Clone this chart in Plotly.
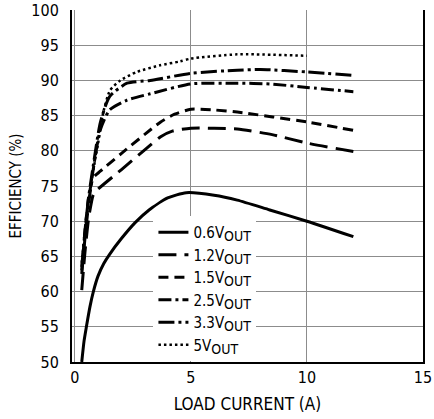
import plotly.graph_objects as go

# Load current (A) and efficiency (%) for each output voltage
i_06 = [0.3, 0.4, 0.5, 0.65, 0.8, 1.0, 1.25, 1.5, 2.0, 2.6, 3.2, 4.0, 4.8, 6.0, 7.0, 8.4, 10.0, 12.0]
e_06 = [50.0, 53.0, 55.0, 57.8, 60.0, 62.2, 64.0, 65.3, 67.5, 69.8, 71.6, 73.3, 74.05, 73.7, 73.0, 71.6, 70.0, 67.8]

i_12 = [0.3, 0.45, 0.6, 0.8, 0.95, 2.0, 3.0, 3.7, 4.2, 5.0, 6.0, 7.0, 8.5, 10.0, 12.0]
e_12 = [60.2, 66.0, 70.5, 73.8, 74.4, 77.3, 80.1, 82.0, 82.8, 83.2, 83.2, 83.1, 82.3, 81.1, 79.9]

i_15 = [0.3, 0.45, 0.6, 0.8, 1.1, 2.0, 3.0, 3.7, 4.3, 5.0, 6.0, 7.0, 10.0, 12.0]
e_15 = [63.0, 69.0, 73.5, 76.2, 77.1, 79.6, 82.3, 84.1, 85.2, 85.9, 85.8, 85.5, 84.1, 82.9]

i_25 = [0.3, 0.45, 0.6, 0.8, 1.1, 1.5, 2.25, 3.25, 5.0, 7.0, 8.4, 10.0, 12.0]
e_25 = [62.5, 68.0, 72.5, 77.5, 83.0, 85.8, 87.2, 88.1, 89.5, 89.6, 89.5, 89.0, 88.4]

i_33 = [0.3, 0.45, 0.6, 0.8, 1.1, 1.5, 2.25, 3.25, 5.0, 7.0, 8.0, 10.0, 12.0]
e_33 = [63.5, 69.0, 73.5, 78.0, 84.0, 87.7, 89.6, 90.0, 91.0, 91.45, 91.55, 91.2, 90.7]

i_50 = [0.3, 0.37, 0.52, 0.73, 1.0, 1.23, 1.52, 1.96, 2.67, 3.68, 4.54, 5.0, 7.0, 10.0]
e_50 = [64.1, 66.4, 70.7, 75.9, 81.0, 85.5, 88.6, 90.0, 91.2, 92.15, 92.7, 93.1, 93.7, 93.5]

SUB = "<sub><span style='font-size:14px'>OUT</span></sub>"
series = [
    ("0.6V" + SUB, i_06, e_06, "solid", 3),
    ("1.2V" + SUB, i_12, e_12, "18px,8px", 3),
    ("1.5V" + SUB, i_15, e_15, "10px,6px", 3),
    ("2.5V" + SUB, i_25, e_25, "13px,4px,3px,4px", 3),
    ("3.3V" + SUB, i_33, e_33, "16px,4px,3px,4px", 3),
    ("5V" + SUB, i_50, e_50, "2.5px,3px", 2.5),
]

x_ticks = [0, 5, 10, 15]
y_ticks = [50, 55, 60, 65, 70, 75, 80, 85, 90, 95, 100]

FONT = "DejaVu Sans Condensed, Liberation Sans Narrow, Liberation Sans, Arial, sans-serif"

fig = go.Figure()
for name, xs, ys, dash, w in series:
    fig.add_trace(go.Scatter(
        x=xs, y=ys, name=name, mode="lines",
        line=dict(color="black", width=w, dash=dash, shape="spline", smoothing=0.6),
    ))

fig.update_layout(
    width=434, height=419,
    margin=dict(l=72, r=11, t=10, b=57, autoexpand=False),
    paper_bgcolor="white", plot_bgcolor="white",
    font=dict(family=FONT, size=16, color="black"),
    showlegend=True,
    legend=dict(
        x=0.232, y=0.415, xanchor="left", yanchor="top",
        bgcolor="white", borderwidth=0,
        font=dict(family=FONT, size=15, color="black"),
        tracegroupgap=0, itemwidth=30,
    ),
    xaxis=dict(
        range=[-0.12, 15], tickvals=x_ticks, ticktext=[str(v) for v in x_ticks],
        showgrid=True, gridcolor="#8c8c8c", gridwidth=1, automargin=False,
        zeroline=False, showline=True, linecolor="black", linewidth=2,
        ticks="", title=dict(text="LOAD CURRENT (A)", standoff=12,
                             font=dict(family=FONT, size=17)),
    ),
    yaxis=dict(
        range=[50, 100], tickvals=y_ticks, ticktext=[str(v) for v in y_ticks],
        showgrid=True, gridcolor="#8c8c8c", gridwidth=1, automargin=False,
        zeroline=False, showline=True, linecolor="black", linewidth=2, mirror=True,
        ticks="", ticklabelstandoff=8,
        title=dict(text="EFFICIENCY (%)", standoff=6,
                   font=dict(family=FONT, size=15)),
    ),
)

fig.write_html("out.html")
